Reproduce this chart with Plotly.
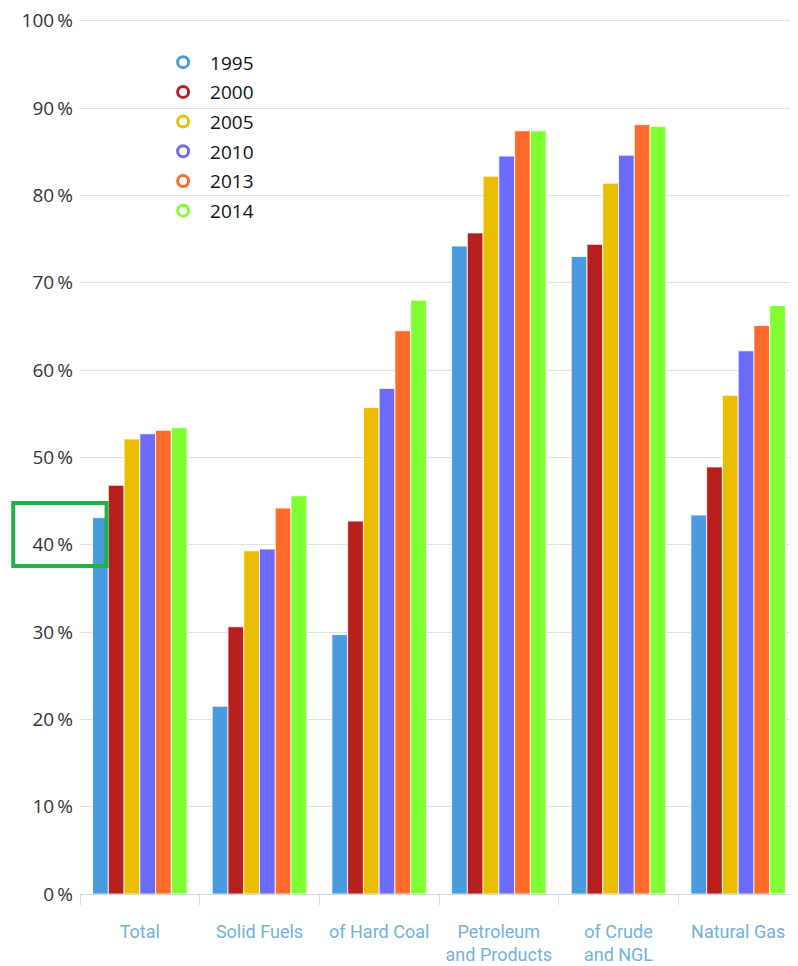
import plotly.graph_objects as go

categories = ["Total", "Solid Fuels", "of Hard Coal", "Petroleum<br>and Products", "of Crude<br>and NGL", "Natural Gas"]
years = ["1995", "2000", "2005", "2010", "2013", "2014"]
v1995 = [43.1, 21.5, 29.7, 74.2, 73.0, 43.4]
v2000 = [46.8, 30.6, 42.7, 75.7, 74.4, 48.9]
v2005 = [52.1, 39.3, 55.7, 82.2, 81.4, 57.1]
v2010 = [52.7, 39.5, 57.9, 84.5, 84.6, 62.2]
v2013 = [53.1, 44.2, 64.5, 87.4, 88.1, 65.1]
v2014 = [53.4, 45.6, 68.0, 87.4, 87.9, 67.4]
series = [v1995, v2000, v2005, v2010, v2013, v2014]
colors = ["#4A9ADF", "#B71F1F", "#EBBD00", "#6B6BFF", "#FF6B2B", "#80FF33"]
y_ticks = [0, 10, 20, 30, 40, 50, 60, 70, 80, 90, 100]
y_ticktext = [f"{v}\u2009%" for v in y_ticks]

fig = go.Figure()
for yr, vals, c in zip(years, series, colors):
    fig.add_trace(go.Bar(x=categories, y=vals, name=yr, marker=dict(color=c, line=dict(color="white", width=0.8)),
                         showlegend=False))
for yr, c in zip(years, colors):
    fig.add_trace(go.Scatter(x=[None], y=[None], mode="markers", name=yr, legendgroup=yr,
                             marker=dict(symbol="circle-open", size=11, color=c, line=dict(width=3, color=c))))

fig.update_layout(
    width=790, height=958,
    margin=dict(l=72, r=0, t=11.25, b=71.6),
    plot_bgcolor="white", paper_bgcolor="white",
    barmode="group", bargap=0.21, bargroupgap=0,
    font=dict(family="Open Sans", color="#333333"),
    legend=dict(x=0.106, y=0.9722, xanchor="left", yanchor="top",
                font=dict(size=19, color="#111111", family="Open Sans"),
                bgcolor="rgba(0,0,0,0)", itemwidth=44, tracegroupgap=2),
    xaxis=dict(showline=True, linecolor="#cfdde3", linewidth=1, ticks="outside", tickson="boundaries",
               ticklen=10, tickcolor="#cfdde3", tickangle=0, automargin=False,
               tickfont=dict(size=18, color="#72b2d8", family="Roboto"),
               ticklabelstandoff=21),
    yaxis=dict(range=[0, 100.2], tickmode="array", tickvals=y_ticks, ticktext=y_ticktext, showgrid=True,
               gridcolor="#d8e5e8", gridwidth=1, zeroline=False, automargin=False, ticklabeloverflow="allow",
               tickfont=dict(size=19, color="#333333", family="Open Sans"), ticklabelstandoff=6),
    shapes=[dict(type="rect", xref="paper", yref="paper", x0=-0.093, x1=0.037, y0=0.375, y1=0.447,
                 line=dict(color="#22B04B", width=4), layer="above")],
)

fig.write_html("out.html")
